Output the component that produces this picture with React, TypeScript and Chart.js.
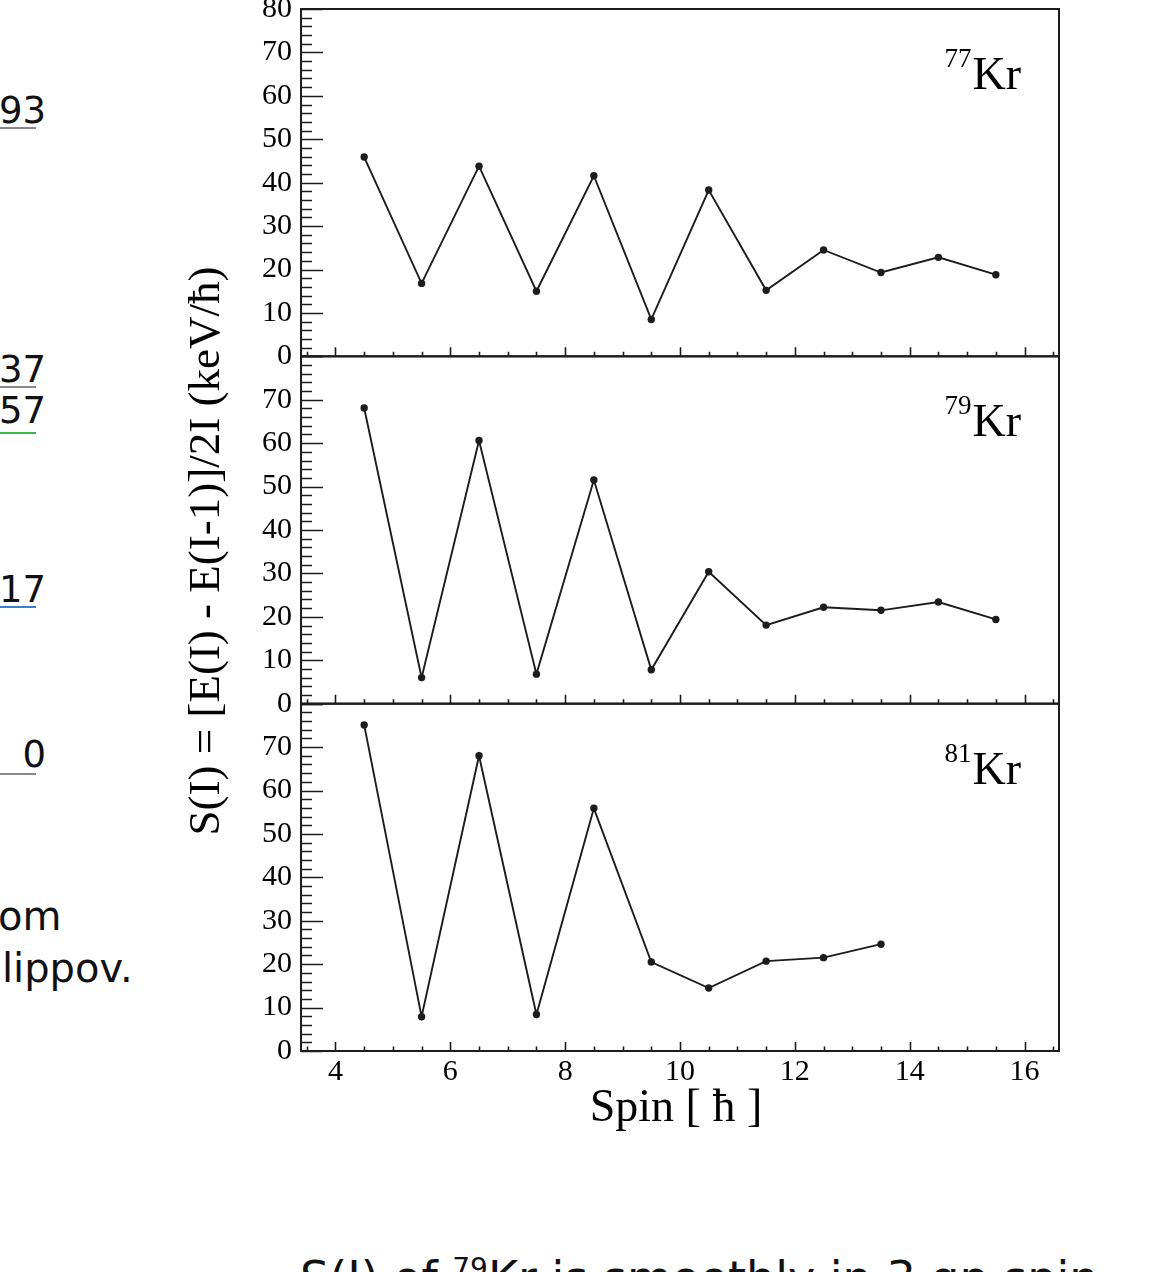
import React, { useEffect, useRef } from 'react';
import { Chart, registerables } from 'chart.js';

Chart.register(...registerables);

// ---------- data ----------
const spins77 = [4.5, 5.5, 6.5, 7.5, 8.5, 9.5, 10.5, 11.5, 12.5, 13.5, 14.5, 15.5];
const staggering77 = [45.9, 16.8, 43.8, 15.0, 41.6, 8.5, 38.3, 15.2, 24.5, 19.3, 22.8, 18.8];

const spins79 = [4.5, 5.5, 6.5, 7.5, 8.5, 9.5, 10.5, 11.5, 12.5, 13.5, 14.5, 15.5];
const staggering79 = [68.1, 6.0, 60.6, 6.8, 51.5, 7.8, 30.4, 18.1, 22.2, 21.5, 23.4, 19.4];

const spins81 = [4.5, 5.5, 6.5, 7.5, 8.5, 9.5, 10.5, 11.5, 12.5, 13.5];
const staggering81 = [75.1, 7.9, 68.0, 8.4, 55.9, 20.5, 14.5, 20.7, 21.5, 24.6];

const massNumbers = ['77', '79', '81'];
const panelAxes = ['y77', 'y79', 'y81'];
const xTickValues = [4, 6, 8, 10, 12, 14, 16];
const xMinorTicks = [3.5, 4, 4.5, 5, 5.5, 6, 6.5, 7, 7.5, 8, 8.5, 9, 9.5, 10, 10.5, 11, 11.5, 12, 12.5, 13, 13.5, 14, 14.5, 15, 15.5, 16, 16.5];
const yTickValues = [0, 10, 20, 30, 40, 50, 60, 70, 80];
const yMinorTicks = [0, 2, 4, 6, 8, 10, 12, 14, 16, 18, 20, 22, 24, 26, 28, 30, 32, 34, 36, 38, 40, 42, 44, 46, 48, 50, 52, 54, 56, 58, 60, 62, 64, 66, 68, 70, 72, 74, 76, 78, 80];
const xTitle = 'Spin [ ħ ]';
const yTitle = 'S(I) = [E(I) - E(I-1)]/2I (keV/ħ)';

// ---------- style ----------
const SERIF = "'Liberation Serif', 'Times New Roman', serif";
const SLIDE_FONT = "'DejaVu Sans', 'Noto Sans', sans-serif";
const INK = '#1c1c1c';
const CANVAS_SHIFT = 30;

const toPoints = (xs: number[], ys: number[]) => xs.map((x, i) => ({ x, y: ys[i] }));

const rootFramePlugin = {
  id: 'rootFrame',
  afterDraw(chart: any) {
    const ctx = chart.ctx as CanvasRenderingContext2D;
    const xs = chart.scales.x;
    const { left, right, top, bottom } = chart.chartArea;
    ctx.save();
    ctx.strokeStyle = INK;
    ctx.fillStyle = '#000';
    panelAxes.forEach((id, i) => {
      const ys = chart.scales[id];
      ctx.lineWidth = 1.6;
      ctx.beginPath();
      yMinorTicks.forEach((v) => {
        const py = Math.round(ys.getPixelForValue(v)) + 0.5;
        const len = yTickValues.includes(v) ? 22 : 11;
        ctx.moveTo(left, py);
        ctx.lineTo(left + len, py);
      });
      xMinorTicks.forEach((v) => {
        const px = Math.round(xs.getPixelForValue(v)) + 0.5;
        const len = xTickValues.includes(v) ? 9 : 4.5;
        ctx.moveTo(px, ys.bottom);
        ctx.lineTo(px, ys.bottom - len);
      });
      ctx.stroke();
      ctx.lineWidth = 2;
      ctx.strokeRect(left, ys.top, right - left, ys.bottom - ys.top);
      ctx.textBaseline = 'alphabetic';
      ctx.textAlign = 'right';
      ctx.font = `46px ${SERIF}`;
      const kx = right - 38;
      ctx.fillText('Kr', kx, ys.top + 80);
      const kw = ctx.measureText('Kr').width;
      ctx.font = `27px ${SERIF}`;
      ctx.fillText(massNumbers[i], kx - kw - 1, ys.top + 58);
    });
    ctx.fillStyle = '#000';
    ctx.font = `46px ${SERIF}`;
    ctx.textAlign = 'center';
    ctx.textBaseline = 'middle';
    ctx.fillText(xTitle, (left + right) / 2 - 4, bottom + 58);
    ctx.save();
    ctx.translate(left - 94, (top + bottom) / 2 + 21);
    ctx.rotate(-Math.PI / 2);
    ctx.font = `45px ${SERIF}`;
    ctx.fillText(yTitle, 0, 0);
    ctx.restore();
    ctx.restore();
  },
};

function yAxis(weight: number, hideTop: boolean) {
  return {
    type: 'linear',
    position: 'left',
    stack: 'panels',
    stackWeight: 1,
    weight,
    min: 0,
    max: 80,
    grid: { display: false, drawTicks: false },
    border: { display: false },
    afterBuildTicks: (s: any) => {
      s.ticks = yTickValues.map((value) => ({ value }));
    },
    ticks: {
      font: { family: SERIF, size: 30 },
      color: '#000',
      padding: 9,
      autoSkip: false,
      callback: (v: number) => (hideTop && v === 80 ? '' : String(v)),
    },
    afterFit: (s: any) => {
      s.width = 301;
    },
  };
}

function StaggeringChart() {
  const ref = useRef<HTMLCanvasElement | null>(null);
  useEffect(() => {
    if (!ref.current) return;
    const line = {
      borderColor: INK,
      backgroundColor: INK,
      borderWidth: 1.9,
      pointRadius: 3.7,
      pointHoverRadius: 3.7,
      pointBorderWidth: 0,
      tension: 0,
      fill: false,
    };
    const chart = new Chart(ref.current, {
      type: 'line',
      data: {
        datasets: [
          { label: '77Kr', data: toPoints(spins77, staggering77), yAxisID: 'y77', ...line },
          { label: '79Kr', data: toPoints(spins79, staggering79), yAxisID: 'y79', ...line },
          { label: '81Kr', data: toPoints(spins81, staggering81), yAxisID: 'y81', ...line },
        ],
      },
      options: {
        responsive: false,
        animation: false,
        devicePixelRatio: 1,
        layout: { padding: { top: 9 + CANVAS_SHIFT, right: 116, bottom: 0, left: 0 } },
        plugins: { legend: { display: false }, tooltip: { enabled: false } },
        events: [],
        scales: {
          x: {
            type: 'linear',
            position: 'bottom',
            min: 3.4,
            max: 16.6,
            grid: { display: false, drawTicks: false },
            border: { display: false },
            afterBuildTicks: (s: any) => {
              s.ticks = xTickValues.map((value) => ({ value }));
            },
            ticks: {
              font: { family: SERIF, size: 30 },
              color: '#000',
              padding: 3,
              autoSkip: false,
              maxRotation: 0,
            },
            afterFit: (s: any) => {
              s.height = 221;
            },
          },
          y77: yAxis(3, false),
          y79: yAxis(2, true),
          y81: yAxis(1, true),
        },
      } as any,
      plugins: [rootFramePlugin],
    });
    return () => chart.destroy();
  }, []);
  return (
    <canvas
      ref={ref}
      width={1175}
      height={1272 + CANVAS_SHIFT}
      style={{ position: 'absolute', left: 0, top: -CANVAS_SHIFT, width: 1175, height: 1272 + CANVAS_SHIFT }}
    />
  );
}

const levelLabels = [
  { text: '93', top: 89, line: 127, color: '#8a8a8a' },
  { text: '37', top: 348, line: 386, color: '#8a8a8a' },
  { text: '57', top: 389, line: 432, color: '#3cb54a' },
  { text: '17', top: 568, line: 606, color: '#3a7fd0' },
  { text: '0', top: 733, line: 773, color: '#8a8a8a' },
];

export default function App() {
  return (
    <div
      style={{
        position: 'fixed',
        left: 0,
        top: 0,
        width: 1175,
        height: 1272,
        overflow: 'hidden',
        background: '#fff',
      }}
    >
      {levelLabels.map((l) => (
        <React.Fragment key={l.text}>
          <div
            style={{
              position: 'absolute',
              right: 1175 - 46,
              top: l.top,
              font: `37px ${SLIDE_FONT}`,
              lineHeight: '44px',
              color: '#111',
              whiteSpace: 'nowrap',
            }}
          >
            {l.text}
          </div>
          <div style={{ position: 'absolute', left: 0, top: l.line, width: 36, height: 2, background: l.color }} />
        </React.Fragment>
      ))}
      <div
        style={{
          position: 'absolute',
          left: -2,
          top: 890,
          font: `40px ${SLIDE_FONT}`,
          lineHeight: '52px',
          color: '#111',
          whiteSpace: 'nowrap',
        }}
      >
        om
      </div>
      <div
        style={{
          position: 'absolute',
          left: 2,
          top: 942,
          font: `40px ${SLIDE_FONT}`,
          lineHeight: '52px',
          color: '#111',
          whiteSpace: 'nowrap',
        }}
      >
        lippov.
      </div>
      <div
        style={{
          position: 'absolute',
          left: 300,
          top: 1241,
          font: `46px ${SLIDE_FONT}`,
          lineHeight: '56px',
          color: '#111',
          whiteSpace: 'nowrap',
        }}
      >
        S(I) of <sup style={{ fontSize: 28 }}>79</sup>Kr is smoothly in 3 qp spin
      </div>
      <StaggeringChart />
    </div>
  );
}
